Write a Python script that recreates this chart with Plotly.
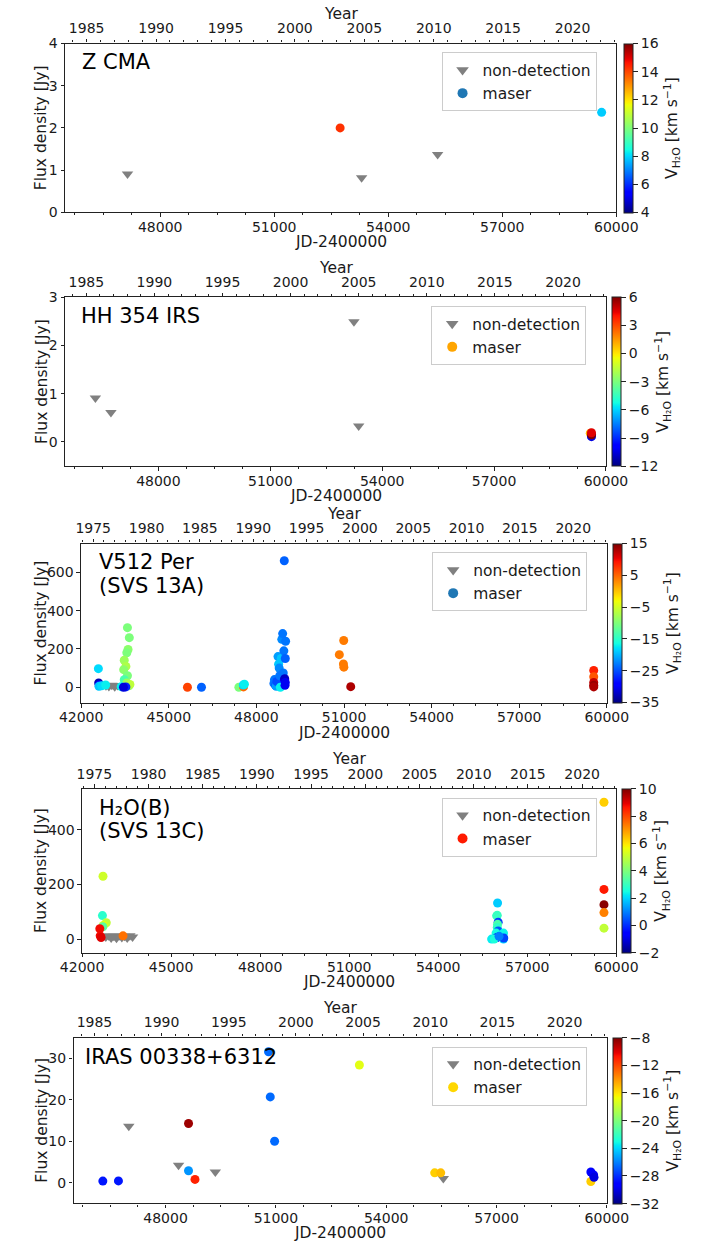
import numpy as np
import plotly.graph_objects as go

W, H = 719, 1249

# ---------------- DATA ----------------
# Panel 1: Z CMA
zcma_nd_jd = [47140, 53300, 55300]
zcma_nd_flux = [0.91, 0.82, 1.37]
zcma_m_jd = [52735, 59615]
zcma_m_flux = [2.0, 2.37]
zcma_m_vel = [14.3, 7.9]

# Panel 2: HH 354 IRS
hh_nd_jd = [46310, 46727, 53243, 53370]
hh_nd_flux = [0.91, 0.61, 2.49, 0.33]
hh_m_jd = [59580, 59612, 59615, 59612]
hh_m_flux = [0.18, 0.11, 0.15, 0.19]
hh_m_vel = [1.0, -10.5, 6.0, 4.5]

# Panel 3: V512 Per (SVS 13A)
v512_nd_jd = [42850, 42950, 43050, 43150, 43250, 43350, 43440]
v512_nd_flux = [8, 4, 10, 3, 9, 5, 8]
v512_m_jd = [42590, 42600, 42620, 42610, 42700, 42840,
             43585, 43649, 43606, 43564, 43476, 43532, 43457, 43585, 43476, 43564, 43638, 43670,
             43532, 43370, 43450,
             45640, 46120, 47400, 47560, 47550, 47590,
             48600, 48620, 48650, 48680, 48700, 48740, 48760, 48780, 48800, 48820, 48850, 48870,
             48900, 48920, 48940, 48960, 48970, 48980, 49000, 48990, 48955, 48990,
             50840, 50990, 50980, 50995, 51230,
             59550, 59550, 59550, 59550, 59550]
v512_m_flux = [97, 22, 12, 5, 8, 12,
               311, 259, 197, 180, 141, 109, 92, 60, 39, 22, 8, 15,
               2, 3, 0,
               0, 0, 0, 2, 12, 16,
               20, 40, 10, 5, 30, 160, 120, 100, 60, 0, 150, 250,
               280, 75, 190, 40, 45, 10, 240, 150, 660, 25,
               170, 244, 122, 105, 3,
               88, 55, 25, 10, 2]
v512_m_vel = [-18, -33, -29, -19, -18, -17,
              -10, -10, -9, -10, -8, -7, -9, -10, -13, -8, -9, -6,
              -27, -17, -31,
              7, -24, -10, 5, -18, -17,
              -23, -23, -24, -21, -25, -21, -19, -22, -23, -17, -19, -22,
              -23, -23, -23, -29, -32, -30, -23, -24, -24, -30,
              4, 4, 4, 4, 13,
              8.8, 6, 12, 14, 13]

# Panel 4: H2O(B) (SVS 13C)
h2ob_nd_jd = [42800, 42890, 42980, 43070, 43160, 43250, 43340, 43430, 43520, 43610, 43700]
h2ob_nd_flux = [8, 12, 4, 10, 3, 12, 6, 10, 4, 12, 8]
h2ob_m_jd = [42705, 42686, 42814, 42717, 42700, 42597, 42610, 42640, 43380,
             56000, 55990, 55970, 56020, 56000, 55990, 56020, 55950, 56200, 55980, 55800, 55890,
             56200, 56210, 56050,
             59586, 59586, 59586, 59586, 59586]
h2ob_m_flux = [230, 86, 60, 50, 45, 38, 12, 6, 12,
               132, 87, 85, 62, 54, 42, 30, 22, 22, 6, 0, 0,
               0, 4, 10,
               501, 182, 126, 97, 40]
h2ob_m_vel = [5.2, 2.8, 5.0, 5.5, 3.5, 8.8, 8.8, 9.0, 7.5,
              1.9, 3.0, 3.0, 0.2, 3.3, 2.9, 0.5, 2.5, 2.4, -0.8, 2.3, 2.6,
              2.0, 0.3, 1.0,
              6.3, 8.6, 9.9, 7.3, 5.0]

# Panel 5: IRAS 00338+6312
iras_nd_jd = [47000, 48353, 49353, 55553]
iras_nd_flux = [13.6, 4.2, 2.6, 1.0]
iras_m_jd = [46294, 46718, 48624, 48624, 48800, 50800, 50847, 50965, 53270,
             55318, 55482, 59565, 59565, 59640, 59650]
iras_m_flux = [0.4, 0.45, 14.3, 2.9, 0.8, 31.6, 20.7, 10.0, 28.4,
               2.4, 2.4, 0.3, 2.6, 1.9, 1.3]
iras_m_vel = [-28.5, -28.5, -8.6, -25.5, -11, -26.5, -26.5, -26.5, -17,
              -15.4, -15, -15.4, -29, -29.5, -30]

names = [["Z CMA"], ["HH 354 IRS"], ["V512 Per", "(SVS 13A)"], ["H₂O(B)", "(SVS 13C)"],
         ["IRAS 00338+6312"]]
nd_jd = [zcma_nd_jd, hh_nd_jd, v512_nd_jd, h2ob_nd_jd, iras_nd_jd]
nd_flux = [zcma_nd_flux, hh_nd_flux, v512_nd_flux, h2ob_nd_flux, iras_nd_flux]
m_jd = [zcma_m_jd, hh_m_jd, v512_m_jd, h2ob_m_jd, iras_m_jd]
m_flux = [zcma_m_flux, hh_m_flux, v512_m_flux, h2ob_m_flux, iras_m_flux]
m_vel = [zcma_m_vel, hh_m_vel, v512_m_vel, h2ob_m_vel, iras_m_vel]
legend_colors = ["#1f77b4", "#ffa500", "#1f77b4", "#ff1a00", "#ffd700"]

x_ranges = [[45500, 60000], [45500, 60000], [42000, 60000], [42000, 60000], [45500, 60000]]
y_ranges = [[0, 4], [-0.5, 3], [-82, 750], [-50, 550], [-5, 35]]
y_dticks = [1, 1, 200, 200, 10]
v_ranges = [[4, 16], [-12, 6], [-35, 15], [-2, 10], [-32, -8]]
v_dticks = [2, 3, 10, 2, 4]

# ---------------- STYLE ----------------
panels = [
    dict(l=46, r=633, t=36, b=207, cbx=641, lx=16),
    dict(l=46, r=622, t=293, b=464, cbx=628, lx=15),
    dict(l=63, r=623, t=542.5, b=704, cbx=630, lx=17),
    dict(l=64, r=633, t=791, b=957, cbx=639, lx=16),
    dict(l=55, r=623, t=1043, b=1211, cbx=629, lx=10),
]

FONT = "DejaVu Sans"
TXT = "#1a1a1a"

# matplotlib 'jet' colormap
jr = [(0, 0), (0.35, 0), (0.66, 1), (0.89, 1), (1, 0.5)]
jg = [(0, 0), (0.125, 0), (0.375, 1), (0.64, 1), (0.91, 0), (1, 0)]
jb = [(0, 0.5), (0.11, 1), (0.34, 1), (0.65, 0), (1, 0)]
stops = sorted(set([p[0] for p in jr + jg + jb]))
def _c(tab, s):
    return np.interp(s, [p[0] for p in tab], [p[1] for p in tab])
jet = [[s, "rgb(%d,%d,%d)" % (round(255 * _c(jr, s)), round(255 * _c(jg, s)), round(255 * _c(jb, s)))] for s in stops]


def yr(jd):
    return 2000 + (jd - 51544.5) / 365.25


fig = go.Figure()
layout = dict(width=W, height=H, margin=dict(l=0, r=0, t=0, b=0),
              paper_bgcolor="white", plot_bgcolor="white",
              font=dict(family=FONT, size=14, color=TXT), annotations=[])

for i in range(5):
    k = i + 1
    p = panels[i]
    xa = "x" if k == 1 else "x%d" % k
    ya = "y" if k == 1 else "y%d" % k
    xt = "x%d" % (k + 5)
    ca = "coloraxis" if k == 1 else "coloraxis%d" % k
    lg = "legend" if k == 1 else "legend%d" % k
    xdom = [p["l"] / W, p["r"] / W]
    ydom = [1 - p["b"] / H, 1 - p["t"] / H]
    xc = (p["l"] + p["r"]) / 2 / W

    fig.add_trace(go.Scatter(x=nd_jd[i], y=nd_flux[i], mode="markers", xaxis=xa, yaxis=ya,
                             marker=dict(symbol="triangle-down", size=10, color="#808080", line=dict(width=0)),
                             showlegend=False, hoverinfo="x+y"))
    fig.add_trace(go.Scatter(x=m_jd[i], y=m_flux[i], mode="markers", xaxis=xa, yaxis=ya,
                             marker=dict(symbol="circle", size=9, color=m_vel[i], coloraxis=ca, line=dict(width=0)),
                             showlegend=False))
    # helper (invisible) trace so the top Year axis is drawn
    fig.add_trace(go.Scatter(x=[yr(x_ranges[i][0]), yr(x_ranges[i][1])], y=[y_ranges[i][0]] * 2,
                             mode="markers", xaxis=xt, yaxis=ya, marker=dict(opacity=0, size=1),
                             hoverinfo="skip", showlegend=False))
    # legend entries
    fig.add_trace(go.Scatter(x=[None], y=[None], mode="markers", xaxis=xa, yaxis=ya, name="non-detection",
                             marker=dict(symbol="triangle-down", size=11, color="#808080"), legend=lg))
    fig.add_trace(go.Scatter(x=[None], y=[None], mode="markers", xaxis=xa, yaxis=ya, name="maser",
                             marker=dict(symbol="circle", size=10, color=legend_colors[i]), legend=lg))

    axline = dict(showline=True, linecolor="#222", linewidth=1.3, ticks="outside", tickcolor="#222",
                  ticklen=3.5, showgrid=False, zeroline=False, tickfont=dict(size=14))
    layout["xaxis" if k == 1 else "xaxis%d" % k] = dict(
        domain=xdom, anchor=ya, range=x_ranges[i], tick0=42000, dtick=3000, tickformat="d",
        ticklabelstandoff=-2,
        minor=dict(ticks="outside", ticklen=2, tickcolor="#222", dtick=750),
        **axline)
    layout["yaxis" if k == 1 else "yaxis%d" % k] = dict(
        domain=ydom, anchor=xa, range=y_ranges[i], tick0=0, dtick=y_dticks[i], mirror=True, tickformat="d",
        **axline)
    layout["xaxis%d" % (k + 5)] = dict(
        overlaying=xa, anchor=ya, side="top", range=[yr(x_ranges[i][0]), yr(x_ranges[i][1])],
        tick0=1975, dtick=5, tickformat="d",
        minor=dict(ticks="outside", ticklen=2, tickcolor="#222", dtick=1),
        **axline)
    layout[ca] = dict(
        colorscale=jet, cmin=v_ranges[i][0], cmax=v_ranges[i][1],
        colorbar=dict(x=p["cbx"] / W, xanchor="left", xpad=0, y=1 - p["t"] / H, yanchor="top", ypad=0,
                      len=(p["b"] - p["t"]) / H, lenmode="fraction", thickness=9,
                      outlinewidth=1, outlinecolor="#222",
                      tick0=v_ranges[i][0], dtick=v_dticks[i], ticks="outside", ticklen=5, tickcolor="#222",
                      tickfont=dict(size=14),
                      title=dict(text="V<sub>H₂O</sub> [km s<sup>−1</sup>]", side="right", font=dict(size=15.5))))
    layout[lg] = dict(x=(p["r"] - 21) / W, xanchor="right", y=1 - (p["t"] + 9) / H, yanchor="top",
                      bgcolor="rgba(255,255,255,0.85)", bordercolor="#cccccc", borderwidth=1,
                      font=dict(size=15.5), tracegroupgap=0)
    ann = layout["annotations"]
    for j, line in enumerate(names[i]):
        ann.append(dict(text=line, xref="paper", yref="paper", x=(p["l"] + p["lx"]) / W,
                        y=1 - (p["t"] + 5 + 24 * j) / H,
                        xanchor="left", yanchor="top", showarrow=False, align="left",
                        font=dict(size=21, color="black")))
    ann.append(dict(text="Flux density [Jy]", xref="paper", yref="paper", x=20.5 / W,
                    y=1 - (p["t"] + p["b"]) / 2 / H, xanchor="center", yanchor="middle", textangle=-90,
                    showarrow=False, font=dict(size=15.5)))
    ann.append(dict(text="JD-2400000", xref="paper", yref="paper", x=xc, y=1 - (p["b"] + 30) / H,
                    xanchor="center", yanchor="middle", showarrow=False, font=dict(size=15.5)))
    ann.append(dict(text="Year", xref="paper", yref="paper", x=xc, y=1 - (p["t"] - 30) / H,
                    xanchor="center", yanchor="middle", showarrow=False, font=dict(size=15.5)))

fig.update_layout(**layout)
fig.write_html("out.html")
